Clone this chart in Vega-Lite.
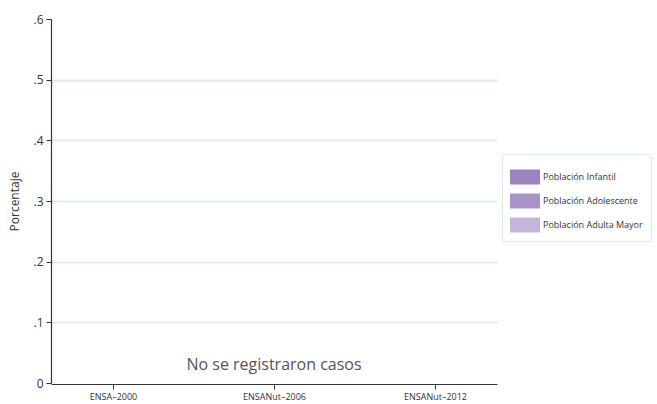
{
  "$schema": "https://vega.github.io/schema/vega-lite/v6.json",
  "width": 446,
  "height": 364,
  "autosize": {"type": "none"},
  "padding": {"left": 51, "top": 19, "right": 160, "bottom": 21},
  "background": "white",
  "config": {
    "view": {"stroke": null},
    "font": "Open Sans",
    "axis": {"labelFont": "Open Sans", "titleFont": "Open Sans", "domainColor": "#333333", "tickColor": "#333333", "labelColor": "#333333", "titleColor": "#333333"}
  },
  "datasets": {
    "bars": [
      {"encuesta": "ENSA–2000", "grupo": "Población Infantil", "valor": 0},
      {"encuesta": "ENSA–2000", "grupo": "Población Adolescente", "valor": 0},
      {"encuesta": "ENSA–2000", "grupo": "Población Adulta Mayor", "valor": 0},
      {"encuesta": "ENSANut–2006", "grupo": "Población Infantil", "valor": 0},
      {"encuesta": "ENSANut–2006", "grupo": "Población Adolescente", "valor": 0},
      {"encuesta": "ENSANut–2006", "grupo": "Población Adulta Mayor", "valor": 0},
      {"encuesta": "ENSANut–2012", "grupo": "Población Infantil", "valor": 0},
      {"encuesta": "ENSANut–2012", "grupo": "Población Adolescente", "valor": 0},
      {"encuesta": "ENSANut–2012", "grupo": "Población Adulta Mayor", "valor": 0}
    ],
    "nota": [
      {"encuesta": "ENSANut–2006", "valor": 0.03, "texto": "No se registraron casos"}
    ]
  },
  "layer": [
    {
      "data": {"name": "bars"},
      "mark": {"type": "bar", "width": 30},
      "encoding": {
        "x": {
          "field": "encuesta", "type": "nominal", "sort": null,
          "scale": {"type": "point", "padding": 0.385},
          "axis": {"title": null, "labelAngle": 0, "labelFontSize": 9, "tickSize": 5, "labelPadding": 3, "grid": false, "domainWidth": 1.2, "offset": 1}
        },
        "y": {
          "field": "valor", "type": "quantitative",
          "scale": {"domain": [0, 0.6], "nice": false},
          "axis": {
            "title": "Porcentaje", "titleFontSize": 12, "titleFontWeight": "normal", "titlePadding": 11,
            "values": [0, 0.1, 0.2, 0.3, 0.4, 0.5, 0.6],
            "labelExpr": "datum.value == 0 ? '0' : replace(format(datum.value, '.1f'), '0.', '.')",
            "labelFontSize": 12, "tickSize": 5, "labelPadding": 3, "domainWidth": 1.2,
            "grid": true, "gridWidth": 2,
            "gridColor": {"condition": {"test": "datum.value >= 0.6 || datum.value == 0", "value": "transparent"}, "value": "#deeeed"}
          }
        },
        "color": {
          "field": "grupo", "type": "nominal", "sort": null,
          "scale": {"domain": ["Población Infantil", "Población Adolescente", "Población Adulta Mayor"], "range": ["#9c82bf", "#a993ca", "#c5b5da"]},
          "legend": {
            "title": null, "orient": "none", "legendX": 451, "legendY": 135,
            "symbolType": "M-1,-0.5L1,-0.5L1,0.5L-1,0.5Z", "symbolSize": 900, "symbolStrokeWidth": 0, "symbolOpacity": 1,
            "labelFontSize": 9, "labelColor": "#333333", "labelFont": "Open Sans",
            "rowPadding": 1, "padding": 8, "strokeColor": "#dcecec", "fillColor": "white", "labelOffset": 3
          }
        }
      }
    },
    {
      "data": {"name": "nota"},
      "mark": {"type": "text", "fontSize": 16, "color": "#555555", "font": "Open Sans", "baseline": "middle"},
      "encoding": {
        "x": {"field": "encuesta", "type": "nominal", "sort": null},
        "y": {"field": "valor", "type": "quantitative"},
        "text": {"field": "texto"}
      }
    }
  ]
}
